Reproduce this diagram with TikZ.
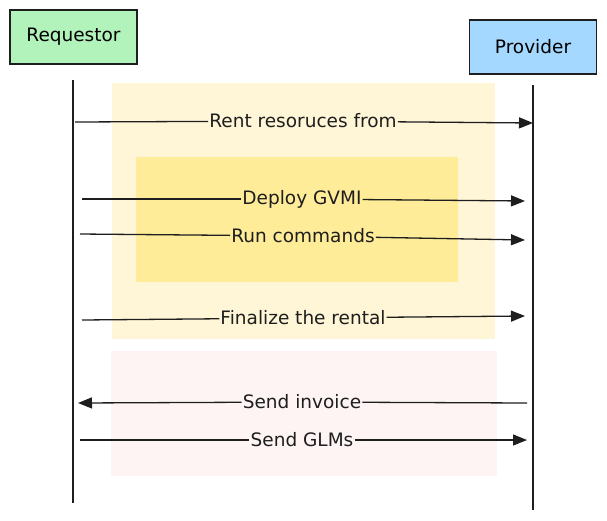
\documentclass[tikz,border=0pt]{standalone}
\usepackage{fontspec}
\setmainfont{DejaVu Sans}
\usetikzlibrary{arrows.meta}
\definecolor{ink}{HTML}{1E1E1E}
\definecolor{reqfill}{HTML}{B2F2BB}
\definecolor{provfill}{HTML}{A5D8FF}
\definecolor{outeryellow}{HTML}{FFF6D8}
\definecolor{inneryellow}{HTML}{FFEC99}
\definecolor{pinkzone}{HTML}{FFF4F4}
\tikzset{
  actor/.style={draw=ink, line width=1.5pt, minimum width=127pt, minimum height=54pt, inner sep=0pt, font=\fontsize{18.5}{22}\selectfont},
  lifeline/.style={draw=ink, line width=1.2pt},
  msg/.style={draw=ink, line width=1.3pt},
  msgarrow/.style={msg, -{Triangle[length=14pt,width=11pt]}},
  msglabel/.style={inner sep=1pt, font=\fontsize{18.5}{22}\selectfont, text=ink},
}
\begin{document}
\begin{tikzpicture}[x=1pt, y=-1pt]
\useasboundingbox (0,0) rectangle (607,520);
% zones
\fill[outeryellow] (112,83) rectangle (495,339);
\fill[inneryellow] (136,157) rectangle (458,282);
\fill[pinkzone] (111,351) rectangle (497,476);
% actors
\node[actor, fill=reqfill] (req) at (73.5,37) {Requestor};
\node[actor, fill=provfill] (prov) at (533,47) {Provider};
% lifelines
\coordinate (reqtop) at (73,80);
\coordinate (reqbot) at (73,503);
\coordinate (provtop) at (533,85);
\coordinate (provbot) at (533,510);
\draw[lifeline] (reqtop) -- (reqbot);
\draw[lifeline] (provtop) -- (provbot);
% message endpoints
\coordinate (m1s) at (75,122);  \coordinate (m1e) at (533,123);
\coordinate (m2s) at (82,199);  \coordinate (m2e) at (525,201);
\coordinate (m3s) at (80,234);  \coordinate (m3e) at (525,240);
\coordinate (m4s) at (82,320);  \coordinate (m4e) at (525,316);
\coordinate (m5s) at (527,403); \coordinate (m5e) at (78,403);
\coordinate (m6s) at (80,440);  \coordinate (m6e) at (527,440);
% labels
\node[msglabel] (l1) at (303,121) {Rent resoruces from};
\node[msglabel] (l2) at (302,199) {Deploy GVMI};
\node[msglabel] (l3) at (303,236) {Run commands};
\node[msglabel] (l4) at (303,318) {Finalize the rental};
\node[msglabel] (l5) at (302,402) {Send invoice};
\node[msglabel] (l6) at (302,440) {Send GLMs};
% messages
\draw[msg] (m1s) -- (l1);  \draw[msgarrow] (l1) -- (m1e);
\draw[msg] (m2s) -- (l2);  \draw[msgarrow] (l2) -- (m2e);
\draw[msg] (m3s) -- (l3);  \draw[msgarrow] (l3) -- (m3e);
\draw[msg] (m4s) -- (l4);  \draw[msgarrow] (l4) -- (m4e);
\draw[msg] (m5s) -- (l5);  \draw[msgarrow] (l5) -- (m5e);
\draw[msg] (m6s) -- (l6);  \draw[msgarrow] (l6) -- (m6e);
\end{tikzpicture}
\end{document}
